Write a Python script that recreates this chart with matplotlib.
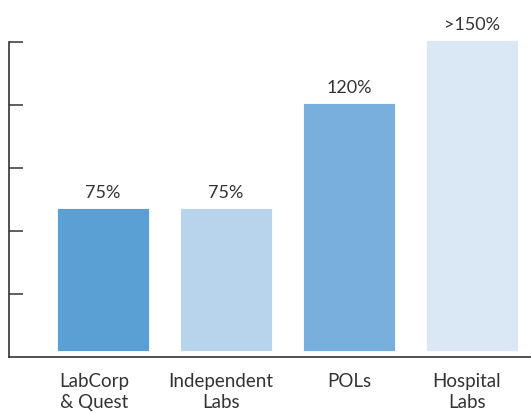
import matplotlib.pyplot as plt
import matplotlib.transforms as mtransforms
import numpy as np

plt.rcParams['font.family'] = ['Lato', 'DejaVu Sans']

categories = ['LabCorp\n& Quest', 'Independent\nLabs', 'POLs', 'Hospital\nLabs']
values = [71, 71, 121, 151]          # bar tops (axis units, ticks every 30)
labels = ['75%', '75%', '120%', '>150%']
colors = ['#5aa0d4', '#b8d3ec', '#78afdc', '#dae7f4']
base = 3                              # bars float just above the baseline
ticks = [30, 60, 90, 120, 150]
label_shift = [-9, -5, 0, -5]         # category labels sit a bit left of bar centres (px)

fig = plt.figure(figsize=(5.31, 4.14), dpi=100)
ax = fig.add_axes([9 / 531, 56 / 414, 522 / 531, 358 / 414])

x = np.arange(len(categories))
ax.bar(x, np.array(values) - base, bottom=base, width=0.75, color=colors,
       edgecolor='white', linewidth=0.6)

for xi, v, lab in zip(x, values, labels):
    ax.annotate(lab, (xi, v), xytext=(0, 6), textcoords='offset points',
                ha='center', va='bottom', fontsize=13, color='#333333')

ax.set_xlim(-0.764, 3.48)
ax.set_ylim(0, 358 / 63 * 30)
ax.set_xticks(x)
ax.set_xticklabels(categories, fontsize=13.5, color='#333333', linespacing=1.25)
ax.tick_params(axis='x', length=0, pad=11)
for t, dx in zip(ax.get_xticklabels(), label_shift):
    t.set_transform(t.get_transform() + mtransforms.ScaledTranslation(dx / 100, 0, fig.dpi_scale_trans))
ax.set_yticks(ticks)
ax.set_yticklabels([])
ax.tick_params(axis='y', direction='in', length=10, width=1.1, color='#333333')

for s in ['top', 'right']:
    ax.spines[s].set_visible(False)
ax.spines['left'].set_bounds(0, 150)
for s in ['left', 'bottom']:
    ax.spines[s].set_color('#333333')
    ax.spines[s].set_linewidth(1.2)

fig.savefig('out.png', dpi=100)
